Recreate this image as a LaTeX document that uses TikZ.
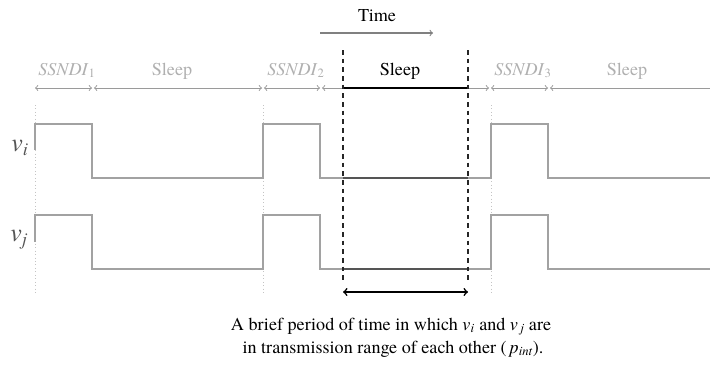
\documentclass[tikz,border=0pt]{standalone}
\usepackage{amsmath}
\usepackage{fontspec}
\setmainfont{texgyretermes}[Extension=.otf, UprightFont=*-regular, ItalicFont=*-italic, BoldFont=*-bold, BoldItalicFont=*-bolditalic]
\definecolor{wavegray}{HTML}{A2A2A2}
\definecolor{lblgray}{HTML}{B0B0B0}
\definecolor{arrgray}{HTML}{9A9A9A}
\definecolor{dotgray}{HTML}{C4C4C4}
\definecolor{timegray}{HTML}{808080}
\definecolor{vgray}{HTML}{555555}
\begin{document}
\begin{tikzpicture}[x=0.75pt,y=-0.75pt,
  font=\fontsize{13.6}{17.25}\selectfont,
  wave/.style={draw=wavegray, line width=0.9pt},
  span/.style={draw=arrgray, line width=0.7pt, <->},
  rowlbl/.style={text=lblgray, anchor=base, inner sep=0pt},
  guide/.style={draw=dotgray, dotted, line width=0.6pt},
  window/.style={draw=black!85, line width=0.95pt, dash pattern=on 3.5pt off 3pt},
  vlbl/.style={text=vgray, inner sep=0pt, font=\fontsize{19.5}{22}\selectfont}]
\useasboundingbox (0,0) rectangle (710,365);

% guides
\foreach \x/\n in {35/a,263/b,491/c}{
  \coordinate (g\n1) at (\x,105);
  \coordinate (g\n2) at (\x,295);
  \draw[guide] (g\n1) -- (g\n2);
}

% time arrow
\node[inner sep=0pt, anchor=base] (time) at (377,21) {Time};
\coordinate (t1) at (320,33);
\coordinate (t2) at (433,33);
\draw[draw=timegray, line width=0.8pt, ->] (t1) -- (t2);

% span arrows
\coordinate (s1) at (35,88);  \coordinate (s2) at (92,88);
\coordinate (s3) at (94,88);  \coordinate (s4) at (262,88);
\coordinate (s5) at (264,88); \coordinate (s6) at (320,88);
\coordinate (s7) at (322,88); \coordinate (s8) at (489,88);
\coordinate (s9) at (491,88); \coordinate (s10) at (548,88);
\coordinate (s11) at (550,88); \coordinate (s12) at (710,88);
\draw[span] (s1) -- (s2);
\draw[span] (s3) -- (s4);
\draw[span] (s5) -- (s6);
\draw[span] (s7) -- (s8);
\draw[span] (s9) -- (s10);
\draw[draw=arrgray, line width=0.7pt, <-] (s11) -- (s12);
\coordinate (k1) at (343,88); \coordinate (k2) at (468,88);
\draw[black, line width=1.3pt] (k1) -- (k2);

\node[rowlbl] (l1) at (67,75) {\textit{SSNDI}$_{\text{1}}$};
\node[rowlbl] (l2) at (172,75) {Sleep};
\node[rowlbl] (l3) at (296,75) {\textit{SSNDI}$_{\text{2}}$};
\node[inner sep=0pt, anchor=base] (l4) at (400,75) {Sleep};
\node[rowlbl] (l5) at (523,75) {\textit{SSNDI}$_{\text{3}}$};
\node[rowlbl] (l6) at (627,75) {Sleep};

% waveforms
\draw[wave] (35,150) -- (35,124) -- (92,124) -- (92,178) -- (263,178) -- (263,124)
  -- (320,124) -- (320,178) -- (491,178) -- (491,124) -- (548,124) -- (548,178) -- (710,178);
\draw[wave] (35,242) -- (35,215) -- (92,215) -- (92,269) -- (263,269) -- (263,215)
  -- (320,215) -- (320,269) -- (491,269) -- (491,215) -- (548,215) -- (548,269) -- (710,269);
\coordinate (w1) at (343,178); \coordinate (w2) at (468,178);
\coordinate (w3) at (343,269); \coordinate (w4) at (468,269);
\draw[draw=vgray, line width=0.9pt] (w1) -- (w2);
\draw[draw=vgray, line width=0.9pt] (w3) -- (w4);

\node[vlbl] (vi) at (20,148) {\textit{v}$_{\textit{i}}$};
\node[vlbl] (vj) at (19,240) {\textit{v}$_{\textit{j}}$};

% window
\coordinate (d1) at (343,50); \coordinate (d2) at (343,284);
\coordinate (d3) at (468,50); \coordinate (d4) at (468,284);
\draw[window] (d1) -- (d2);
\draw[window] (d3) -- (d4);
\coordinate (b1) at (343,292); \coordinate (b2) at (468,292);
\draw[black, line width=1.2pt, <->] (b1) -- (b2);

% caption
\node[inner sep=0pt, anchor=base] (c1) at (391,330) {A brief period of time in which \textit{v}$_{\textit{i}}$ and \textit{v}$_{\,\textit{j}}$ are};
\node[inner sep=0pt, anchor=base] (c2) at (393,353) {in transmission range of each other (\,\textit{p}$_{\textit{int}}$).};
\end{tikzpicture}
\end{document}
